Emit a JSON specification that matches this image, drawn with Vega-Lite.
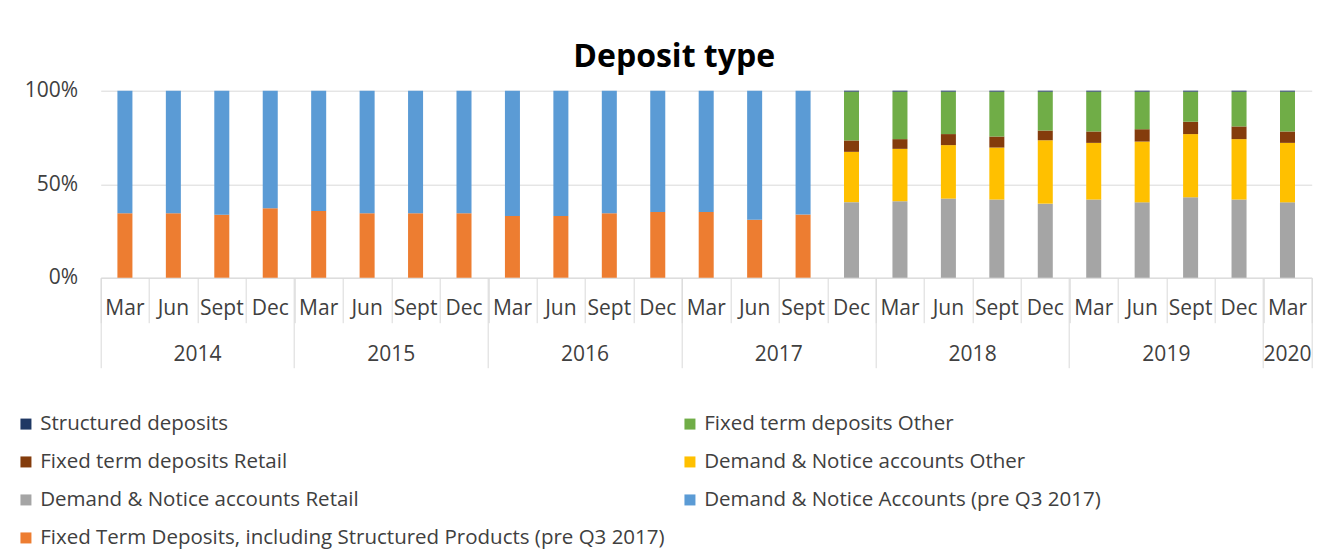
{
  "$schema": "https://vega.github.io/schema/vega-lite/v6.json",
  "width": 1211,
  "height": 187,
  "autosize": {"type": "none"},
  "padding": {"left": 100.7, "top": 90.7, "right": 31.3, "bottom": 275.3},
  "background": "white",
  "config": {"font": "Open Sans", "view": {"stroke": null}},
  "title": {"text": "Deposit type", "font": "Open Sans", "fontSize": 32, "fontWeight": "bold", "color": "#000000", "anchor": "middle", "frame": "group", "dx": -32, "offset": 6},
  "data": {"values": [
    {"period": "2014 Mar", "type": "Fixed Term Deposits, including Structured Products (pre Q3 2017)", "value": 34.4},
    {"period": "2014 Mar", "type": "Demand & Notice Accounts (pre Q3 2017)", "value": 65.6},
    {"period": "2014 Jun", "type": "Fixed Term Deposits, including Structured Products (pre Q3 2017)", "value": 34.4},
    {"period": "2014 Jun", "type": "Demand & Notice Accounts (pre Q3 2017)", "value": 65.6},
    {"period": "2014 Sept", "type": "Fixed Term Deposits, including Structured Products (pre Q3 2017)", "value": 33.7},
    {"period": "2014 Sept", "type": "Demand & Notice Accounts (pre Q3 2017)", "value": 66.3},
    {"period": "2014 Dec", "type": "Fixed Term Deposits, including Structured Products (pre Q3 2017)", "value": 37.1},
    {"period": "2014 Dec", "type": "Demand & Notice Accounts (pre Q3 2017)", "value": 62.9},
    {"period": "2015 Mar", "type": "Fixed Term Deposits, including Structured Products (pre Q3 2017)", "value": 35.7},
    {"period": "2015 Mar", "type": "Demand & Notice Accounts (pre Q3 2017)", "value": 64.3},
    {"period": "2015 Jun", "type": "Fixed Term Deposits, including Structured Products (pre Q3 2017)", "value": 34.4},
    {"period": "2015 Jun", "type": "Demand & Notice Accounts (pre Q3 2017)", "value": 65.6},
    {"period": "2015 Sept", "type": "Fixed Term Deposits, including Structured Products (pre Q3 2017)", "value": 34.4},
    {"period": "2015 Sept", "type": "Demand & Notice Accounts (pre Q3 2017)", "value": 65.6},
    {"period": "2015 Dec", "type": "Fixed Term Deposits, including Structured Products (pre Q3 2017)", "value": 34.4},
    {"period": "2015 Dec", "type": "Demand & Notice Accounts (pre Q3 2017)", "value": 65.6},
    {"period": "2016 Mar", "type": "Fixed Term Deposits, including Structured Products (pre Q3 2017)", "value": 33.0},
    {"period": "2016 Mar", "type": "Demand & Notice Accounts (pre Q3 2017)", "value": 67.0},
    {"period": "2016 Jun", "type": "Fixed Term Deposits, including Structured Products (pre Q3 2017)", "value": 33.0},
    {"period": "2016 Jun", "type": "Demand & Notice Accounts (pre Q3 2017)", "value": 67.0},
    {"period": "2016 Sept", "type": "Fixed Term Deposits, including Structured Products (pre Q3 2017)", "value": 34.4},
    {"period": "2016 Sept", "type": "Demand & Notice Accounts (pre Q3 2017)", "value": 65.6},
    {"period": "2016 Dec", "type": "Fixed Term Deposits, including Structured Products (pre Q3 2017)", "value": 35.1},
    {"period": "2016 Dec", "type": "Demand & Notice Accounts (pre Q3 2017)", "value": 64.9},
    {"period": "2017 Mar", "type": "Fixed Term Deposits, including Structured Products (pre Q3 2017)", "value": 35.1},
    {"period": "2017 Mar", "type": "Demand & Notice Accounts (pre Q3 2017)", "value": 64.9},
    {"period": "2017 Jun", "type": "Fixed Term Deposits, including Structured Products (pre Q3 2017)", "value": 31.0},
    {"period": "2017 Jun", "type": "Demand & Notice Accounts (pre Q3 2017)", "value": 69.0},
    {"period": "2017 Sept", "type": "Fixed Term Deposits, including Structured Products (pre Q3 2017)", "value": 33.8},
    {"period": "2017 Sept", "type": "Demand & Notice Accounts (pre Q3 2017)", "value": 66.2},
    {"period": "2017 Dec", "type": "Demand & Notice accounts Retail", "value": 40.4},
    {"period": "2017 Dec", "type": "Demand & Notice accounts Other", "value": 26.9},
    {"period": "2017 Dec", "type": "Fixed term deposits Retail", "value": 6.1},
    {"period": "2017 Dec", "type": "Fixed term deposits Other", "value": 26.1},
    {"period": "2017 Dec", "type": "Structured deposits", "value": 0.5},
    {"period": "2018 Mar", "type": "Demand & Notice accounts Retail", "value": 40.9},
    {"period": "2018 Mar", "type": "Demand & Notice accounts Other", "value": 28.0},
    {"period": "2018 Mar", "type": "Fixed term deposits Retail", "value": 5.2},
    {"period": "2018 Mar", "type": "Fixed term deposits Other", "value": 25.4},
    {"period": "2018 Mar", "type": "Structured deposits", "value": 0.5},
    {"period": "2018 Jun", "type": "Demand & Notice accounts Retail", "value": 42.3},
    {"period": "2018 Jun", "type": "Demand & Notice accounts Other", "value": 28.6},
    {"period": "2018 Jun", "type": "Fixed term deposits Retail", "value": 5.9},
    {"period": "2018 Jun", "type": "Fixed term deposits Other", "value": 22.7},
    {"period": "2018 Jun", "type": "Structured deposits", "value": 0.5},
    {"period": "2018 Sept", "type": "Demand & Notice accounts Retail", "value": 41.8},
    {"period": "2018 Sept", "type": "Demand & Notice accounts Other", "value": 27.8},
    {"period": "2018 Sept", "type": "Fixed term deposits Retail", "value": 5.9},
    {"period": "2018 Sept", "type": "Fixed term deposits Other", "value": 24.0},
    {"period": "2018 Sept", "type": "Structured deposits", "value": 0.5},
    {"period": "2018 Dec", "type": "Demand & Notice accounts Retail", "value": 39.6},
    {"period": "2018 Dec", "type": "Demand & Notice accounts Other", "value": 33.9},
    {"period": "2018 Dec", "type": "Fixed term deposits Retail", "value": 5.2},
    {"period": "2018 Dec", "type": "Fixed term deposits Other", "value": 20.8},
    {"period": "2018 Dec", "type": "Structured deposits", "value": 0.5},
    {"period": "2019 Mar", "type": "Demand & Notice accounts Retail", "value": 41.8},
    {"period": "2019 Mar", "type": "Demand & Notice accounts Other", "value": 30.3},
    {"period": "2019 Mar", "type": "Fixed term deposits Retail", "value": 6.1},
    {"period": "2019 Mar", "type": "Fixed term deposits Other", "value": 21.3},
    {"period": "2019 Mar", "type": "Structured deposits", "value": 0.5},
    {"period": "2019 Jun", "type": "Demand & Notice accounts Retail", "value": 40.3},
    {"period": "2019 Jun", "type": "Demand & Notice accounts Other", "value": 32.5},
    {"period": "2019 Jun", "type": "Fixed term deposits Retail", "value": 6.6},
    {"period": "2019 Jun", "type": "Fixed term deposits Other", "value": 20.1},
    {"period": "2019 Jun", "type": "Structured deposits", "value": 0.5},
    {"period": "2019 Sept", "type": "Demand & Notice accounts Retail", "value": 43.0},
    {"period": "2019 Sept", "type": "Demand & Notice accounts Other", "value": 33.8},
    {"period": "2019 Sept", "type": "Fixed term deposits Retail", "value": 6.6},
    {"period": "2019 Sept", "type": "Fixed term deposits Other", "value": 16.1},
    {"period": "2019 Sept", "type": "Structured deposits", "value": 0.5},
    {"period": "2019 Dec", "type": "Demand & Notice accounts Retail", "value": 41.8},
    {"period": "2019 Dec", "type": "Demand & Notice accounts Other", "value": 32.3},
    {"period": "2019 Dec", "type": "Fixed term deposits Retail", "value": 6.8},
    {"period": "2019 Dec", "type": "Fixed term deposits Other", "value": 18.6},
    {"period": "2019 Dec", "type": "Structured deposits", "value": 0.5},
    {"period": "2020 Mar", "type": "Demand & Notice accounts Retail", "value": 40.3},
    {"period": "2020 Mar", "type": "Demand & Notice accounts Other", "value": 31.8},
    {"period": "2020 Mar", "type": "Fixed term deposits Retail", "value": 6.1},
    {"period": "2020 Mar", "type": "Fixed term deposits Other", "value": 21.3},
    {"period": "2020 Mar", "type": "Structured deposits", "value": 0.5}
  ]},
  "layer": [
    {
      "transform": [
        {"calculate": "indexof(['Fixed Term Deposits, including Structured Products (pre Q3 2017)', 'Demand & Notice Accounts (pre Q3 2017)', 'Demand & Notice accounts Retail', 'Demand & Notice accounts Other', 'Fixed term deposits Retail', 'Fixed term deposits Other', 'Structured deposits'], datum.type)", "as": "stack_rank"}
      ],
      "mark": {"type": "bar", "width": {"band": 0.31}},
      "encoding": {
        "x": {
          "field": "period", "type": "nominal", "sort": null,
          "scale": {"paddingInner": 0, "paddingOuter": 0},
          "axis": {
            "orient": "bottom", "title": null, "labelExpr": "split(datum.label, ' ')[1]",
            "labelAngle": 0, "ticks": false, "domain": true, "domainColor": "#d9d9d9", "domainWidth": 1,
            "labelFontSize": 21, "labelColor": "#404040", "labelPadding": 37, "labelBaseline": "alphabetic",
            "labelOverlap": false, "labelBound": false, "labelFlush": false, "grid": false
          }
        },
        "y": {
          "field": "value", "type": "quantitative", "stack": "normalize",
          "scale": {"domain": [0, 1]},
          "axis": {
            "title": null, "values": [0, 0.5, 1], "format": ".0%", "grid": true, "gridColor": "#d9d9d9",
            "gridWidth": 1, "domain": false, "ticks": false, "labelFontSize": 21, "labelColor": "#404040",
            "labelPadding": 23
          }
        },
        "order": {"field": "stack_rank", "type": "quantitative", "sort": "ascending"},
        "color": {
          "field": "type", "type": "nominal",
          "scale": {
            "domain": ["Structured deposits", "Fixed term deposits Retail", "Demand & Notice accounts Retail", "Fixed Term Deposits, including Structured Products (pre Q3 2017)", "Fixed term deposits Other", "Demand & Notice accounts Other", "Demand & Notice Accounts (pre Q3 2017)"],
            "range": ["#1f3864", "#843c0c", "#a5a5a5", "#ed7d31", "#70ad47", "#ffc000", "#5b9bd5"]
          },
          "legend": {
            "orient": "none", "legendX": -85, "legendY": 323, "columns": 2, "columnPadding": 15,
            "rowPadding": 17, "symbolType": "square", "symbolSize": 121, "symbolStrokeWidth": 0,
            "labelFontSize": 20.5, "labelColor": "#404040", "labelLimit": 900, "labelOffset": 4,
            "title": null, "padding": 0
          }
        }
      }
    },
    {
      "mark": {"type": "point", "opacity": 0},
      "encoding": {
        "x": {
          "field": "period", "type": "nominal", "sort": null,
          "axis": {
            "orient": "bottom", "title": null, "labels": false, "domain": false, "grid": false,
            "ticks": true, "tickBand": "extent", "tickColor": "#d9d9d9", "tickWidth": 1, "tickSize": 45
          }
        }
      }
    },
    {
      "mark": {"type": "point", "opacity": 0},
      "encoding": {
        "x": {
          "field": "period", "type": "nominal", "sort": null,
          "axis": {
            "orient": "bottom", "title": null, "domain": false, "grid": false,
            "ticks": true, "bandPosition": 0, "tickColor": "#d9d9d9", "tickWidth": 1, "tickSize": 90,
            "values": ["2014 Mar", "2015 Mar", "2016 Mar", "2017 Mar", "2018 Mar", "2019 Mar", "2020 Mar"],
            "labelExpr": "datum.value == '2020 Mar' ? '' : split(datum.label, ' ')[0]", "labelAngle": 0,
            "labelFontSize": 21, "labelColor": "#404040", "labelPadding": -7, "labelBaseline": "alphabetic",
            "labelOverlap": false, "labelBound": false, "labelFlush": false, "labelOffset": 72.66
          }
        }
      }
    },
    {
      "mark": {"type": "point", "opacity": 0},
      "encoding": {
        "x": {
          "field": "period", "type": "nominal", "sort": null,
          "axis": {
            "orient": "bottom", "title": null, "domain": false, "grid": false,
            "ticks": true, "bandPosition": 1, "tickColor": "#d9d9d9", "tickWidth": 1, "tickSize": 90,
            "values": ["2020 Mar"],
            "labelExpr": "split(datum.label, ' ')[0]", "labelAngle": 0,
            "labelFontSize": 21, "labelColor": "#404040", "labelPadding": -7, "labelBaseline": "alphabetic",
            "labelOverlap": false, "labelBound": false, "labelFlush": false
          }
        }
      }
    }
  ],
  "resolve": {"axis": {"x": "independent"}}
}
